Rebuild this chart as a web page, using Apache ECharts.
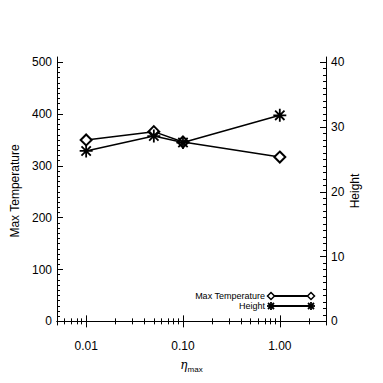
<!DOCTYPE html>
<html><head><meta charset="utf-8">
<script src="https://cdn.jsdelivr.net/npm/echarts@6/dist/echarts.min.js"></script>
<style>html,body{margin:0;padding:0;background:#fff}#c{width:383px;height:383px}</style>
</head><body><div id="c"></div>
<script>
// ---- data ----
const etaMax = [0.01, 0.05, 0.1, 1.0];
const maxTemperature = [350, 366, 346, 317];
const height = [26.3, 28.6, 27.6, 31.8];
// ---- tick labels ----
const xMajorTicks = [0.01, 0.1, 1];
const xMinorTicks = [0.005,0.006,0.007,0.008,0.009,0.02,0.03,0.04,0.05,0.06,0.07,0.08,0.09,0.2,0.3,0.4,0.5,0.6,0.7,0.8,0.9,2,3];
const tempMajorTicks = [0, 100, 200, 300, 400, 500];
const tempMinorTicks = [];
for (let v = 0; v <= 500; v += 10) tempMinorTicks.push(v);
const heightMajorTicks = [0, 10, 20, 30, 40];
const heightMinorTicks = [];
for (let v = 0; v <= 40; v += 1) heightMinorTicks.push(v);

const FONT = 'Liberation Sans';
const black = '#000';
const ASTERISK = 'path://M0,-5L0,5M-5,0L5,0M-3.6,-3.6L3.6,3.6M-3.6,3.6L3.6,-3.6';

function xAx(pos, ticks, len, showLine, showLabel, extra) {
  return Object.assign({
    type: 'log', logBase: 10, min: 0.005, max: 3, position: pos, gridIndex: 0,
    axisLine: {show: showLine, lineStyle: {color: black, width: 1}},
    axisTick: {show: true, inside: true, length: len, customValues: ticks, lineStyle: {color: black, width: 1}},
    axisLabel: showLabel ? {customValues: xMajorTicks, color: black, fontFamily: FONT, fontSize: 12, margin: 15,
      formatter: v => Number(v).toFixed(2)} : {show: false},
    splitLine: {show: false}, minorTick: {show: false}, minorSplitLine: {show: false}
  }, extra || {});
}
function yAx(pos, min, max, ticks, len, showLine, labels, extra) {
  return Object.assign({
    type: 'value', min: min, max: max, position: pos,
    axisLine: {show: showLine, lineStyle: {color: black, width: 1}},
    axisTick: {show: true, inside: true, length: len, customValues: ticks, lineStyle: {color: black, width: 1}},
    axisLabel: labels ? {customValues: labels, color: black, fontFamily: FONT, fontSize: 12, margin: 5} : {show: false},
    splitLine: {show: false}
  }, extra || {});
}

const chart = echarts.init(document.getElementById('c'), null, {renderer: 'svg'});

function legendRow(y, label, symbolEls) {
  return [
    {type: 'text', x: 265, y: y, style: {text: label, fill: black, font: '9px "' + FONT + '"', align: 'right', verticalAlign: 'middle'}},
    {type: 'line', shape: {x1: 271, y1: y, x2: 311, y2: y}, style: {stroke: black, lineWidth: 2}}
  ].concat(symbolEls);
}
function diamond(cx, cy) {
  return {type: 'polygon', shape: {points: [[cx, cy - 3.5], [cx + 3.5, cy], [cx, cy + 3.5], [cx - 3.5, cy]]}, style: {fill: '#fff', stroke: black, lineWidth: 1.5}};
}
function asteriskEls(cx, cy) {
  const r = 4, d = 3;
  const segs = [[[cx, cy - r], [cx, cy + r]], [[cx - r, cy], [cx + r, cy]], [[cx - d, cy - d], [cx + d, cy + d]], [[cx - d, cy + d], [cx + d, cy - d]]];
  return segs.map(s => ({type: 'line', shape: {x1: s[0][0], y1: s[0][1], x2: s[1][0], y2: s[1][1]}, style: {stroke: black, lineWidth: 1.8}}));
}

const option = {
  backgroundColor: '#fff',
  animation: false,
  grid: {left: 57, right: 57, top: 57, bottom: 58, containLabel: false},
  xAxis: [
    xAx('bottom', xMajorTicks, 6, true, true, {
      name: '{a|η}{b|max}', nameLocation: 'middle', nameGap: 32,
      nameTextStyle: {rich: {
        a: {fontFamily: 'DejaVu Serif', fontStyle: 'italic', fontSize: 12, color: black},
        b: {fontFamily: FONT, fontSize: 8, color: black, padding: [8, 0, 0, 0]}
      }}
    }),
    xAx('bottom', xMinorTicks, 3, false, false),
    xAx('top', xMajorTicks, 6, true, false),
    xAx('top', xMinorTicks, 3, false, false)
  ],
  yAxis: [
    yAx('left', -7, 510, tempMajorTicks, 6, true, tempMajorTicks, {
      name: 'Max Temperature', nameLocation: 'middle', nameGap: 35, nameRotate: 90,
      nameTextStyle: {fontFamily: FONT, fontSize: 12, color: black}
    }),
    yAx('right', -0.56, 40.8, heightMajorTicks, 6, true, heightMajorTicks, {
      name: 'Height', nameLocation: 'middle', nameGap: 23, nameRotate: 90, nameMoveOverlap: false,
      nameTextStyle: {fontFamily: FONT, fontSize: 12, color: black}
    }),
    yAx('left', -7, 510, tempMinorTicks, 3, false, null),
    yAx('right', -0.56, 40.8, heightMinorTicks, 3, false, null)
  ],
  series: [
    {
      name: 'Max Temperature', type: 'line', xAxisIndex: 0, yAxisIndex: 0,
      data: etaMax.map((x, i) => [x, maxTemperature[i]]),
      symbol: 'emptyDiamond', symbolSize: 11,
      lineStyle: {color: black, width: 1.5},
      itemStyle: {color: black, borderColor: black, borderWidth: 1.5},
      z: 3
    },
    {
      name: 'Height', type: 'line', xAxisIndex: 0, yAxisIndex: 1,
      data: etaMax.map((x, i) => [x, height[i]]),
      symbol: ASTERISK, symbolSize: 13,
      lineStyle: {color: black, width: 1.5},
      itemStyle: {color: black, borderColor: black, borderWidth: 1.8},
      z: 4
    }
  ],
  graphic: [].concat(
    legendRow(296, 'Max Temperature', [diamond(271, 296), diamond(311, 296)]),
    legendRow(306, 'Height', asteriskEls(271, 306).concat(asteriskEls(311, 306)))
  )
};
chart.setOption(option);
</script></body></html>
